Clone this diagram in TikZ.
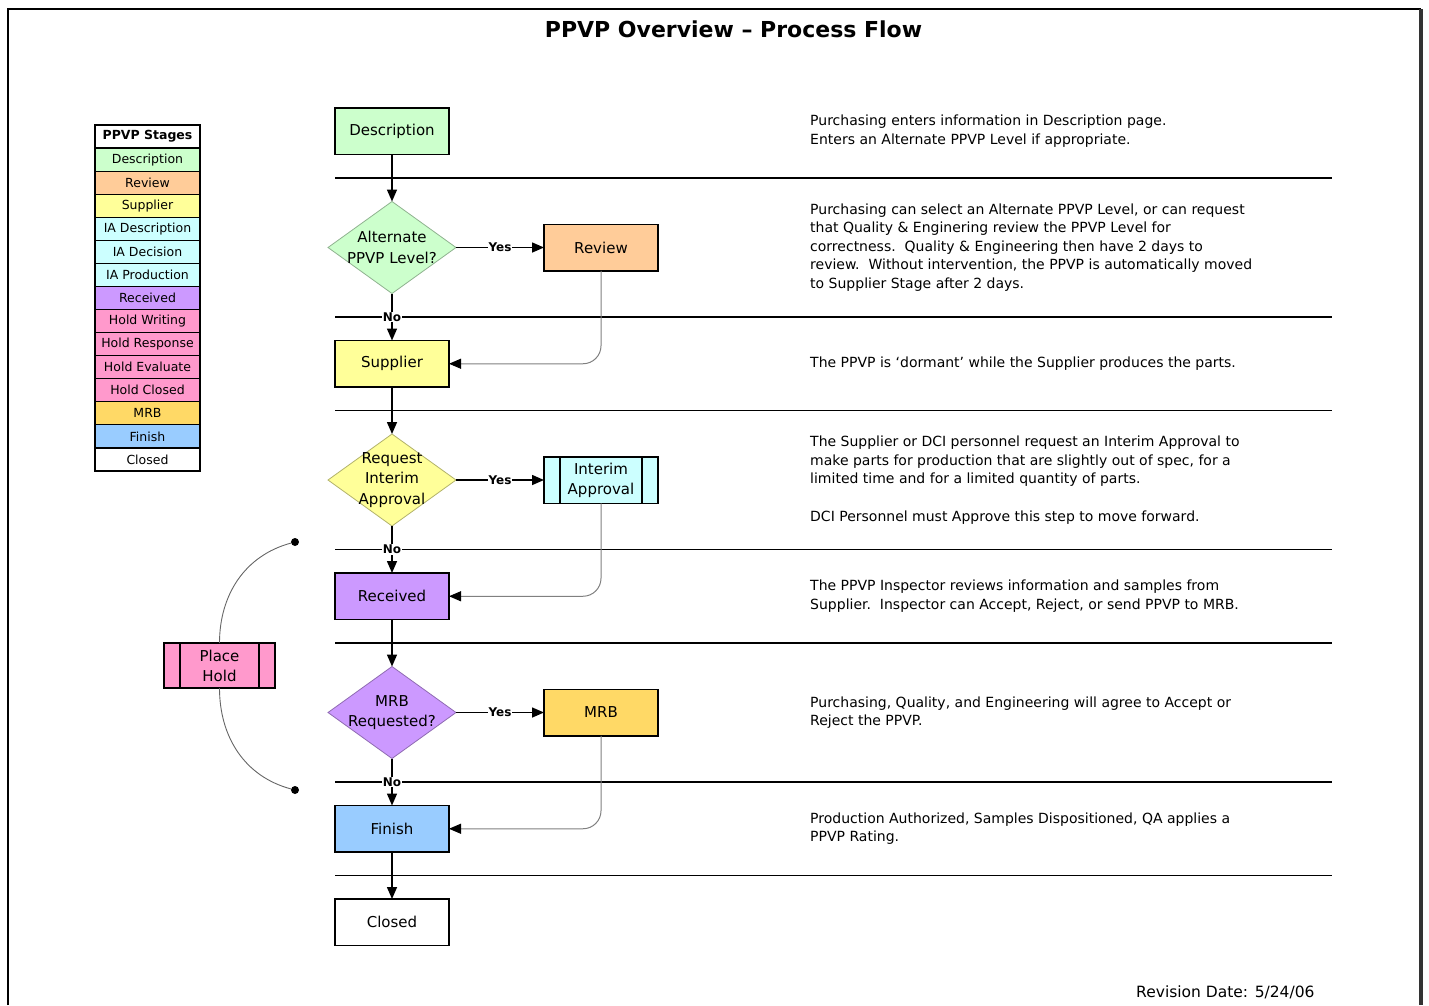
\documentclass[tikz,border=0pt]{standalone}
\usepackage{fontspec}
\setmainfont{DejaVu Sans}
\usepackage{xcolor}
\usetikzlibrary{shapes.geometric,positioning,arrows.meta,calc}
\definecolor{descgreen}{HTML}{CCFFCC}
\definecolor{revorange}{HTML}{FFCC99}
\definecolor{supyellow}{HTML}{FFFF99}
\definecolor{iacyan}{HTML}{CCFFFF}
\definecolor{recpurple}{HTML}{CC99FF}
\definecolor{holdpink}{HTML}{FF99CC}
\definecolor{mrbgold}{HTML}{FFD966}
\definecolor{finblue}{HTML}{99CCFF}

\begin{document}
\begin{tikzpicture}[x=1pt,y=1pt,>={Triangle[length=12pt,width=10pt]},node distance=47pt and 88pt,
	stage/.style={draw,line width=1.5pt,minimum width=114pt,minimum height=46.5pt,inner sep=0pt,outer sep=0pt,align=center,font=\fontsize{15}{20}\selectfont},
	decision/.style={diamond,fill=#1,draw=#1!70!black,line width=0.8pt,minimum width=128pt,minimum height=92pt,inner sep=0pt,outer sep=0pt},
	dtext/.style={align=center,inner sep=0pt,font=\fontsize{15}{20.5}\selectfont},
	predef/.style={path picture={\draw[line width=1.5pt]
		([xshift=16pt]path picture bounding box.north west) -- ([xshift=16pt]path picture bounding box.south west)
		([xshift=-16pt]path picture bounding box.north east) -- ([xshift=-16pt]path picture bounding box.south east);}},
	flow/.style={->,line width=1.5pt},
	back/.style={-{Triangle[length=12pt,width=10pt,color=black]},draw=black!50,line width=1pt,rounded corners=18pt},
	yesno/.style={fill=white,inner sep=1pt,font=\bfseries\fontsize{12}{12}\selectfont},
	sepline/.style={line width=1.5pt},
	note/.style={anchor=west,align=left,inner sep=0pt,font=\fontsize{14}{18.6}\selectfont},
	legend/.style={draw,line width=1.2pt,minimum width=105pt,minimum height=23.07pt,inner sep=0pt,font=\fontsize{12.5}{14}\selectfont},
	holdline/.style={draw=black!60,line width=0.9pt},
	dot/.style={circle,fill=black,inner sep=0pt,minimum size=8pt}]
	\useasboundingbox (0,0) rectangle (1429,-1005);
	\draw[line width=2pt] (8,-1005) -- (8,-9) -- (1421,-9);
	\draw[line width=3.5pt,black!80] (1421,-9) -- (1421,-1005);
	\node[font=\bfseries\fontsize{22}{26}\selectfont] (title) at (733.5,-29) {PPVP Overview -- Process Flow};

	\node[legend,font=\bfseries\fontsize{12.5}{14}\selectfont] (lg0) at (147.5,-136.5) {PPVP Stages};
	\foreach \lab/\col [count=\i] in {Description/descgreen,Review/revorange,Supplier/supyellow,IA Description/iacyan,IA Decision/iacyan,IA Production/iacyan,Received/recpurple,Hold Writing/holdpink,Hold Response/holdpink,Hold Evaluate/holdpink,Hold Closed/holdpink,MRB/mrbgold,Finish/finblue,Closed/white}
		\node[legend,fill=\col] (lg\i) at (147.5,-136.5-23.07*\i) {\lab};

	\node[stage,fill=descgreen] (desc) at (392,-131.25) {Description};
	\node[decision=descgreen,below=of desc,label={[dtext]center:Alternate\\PPVP Level?}] (alt) {};
	\node[stage,fill=revorange,right=of alt] (rev) {Review};
	\node[stage,fill=supyellow,below=of alt] (sup) {Supplier};
	\node[decision=supyellow,below=of sup,label={[dtext]center:Request\\Interim\\Approval}] (ia) {};
	\node[stage,predef,fill=iacyan,right=of ia] (iaok) {Interim\\Approval};
	\node[stage,fill=recpurple,below=of ia] (recv) {Received};
	\node[decision=recpurple,below=of recv,label={[dtext]center:MRB\\Requested?}] (mrbq) {};
	\node[stage,fill=mrbgold,right=of mrbq] (mrb) {MRB};
	\node[stage,fill=finblue,below=of mrbq] (fin) {Finish};
	\node[stage,below=of fin] (clo) {Closed};
	\node[stage,predef,fill=holdpink,minimum width=111pt,minimum height=45pt] (hold) at (219.5,-665.5) {Place\\Hold};
	\node[dot] (h1) at (295,-542) {};
	\node[dot] (h2) at (295,-790) {};

	\coordinate (ex) at (1332,0);
	\foreach \a/\b [count=\k] in {desc/alt,alt/sup,sup/ia,ia/recv,recv/mrbq,mrbq/fin,fin/clo}{
		\coordinate (s\k) at ($(\a.south)!.5!(\b.north)$);
		\draw[sepline] (s\k -| desc.west) -- (s\k -| ex);
	}

	\draw[flow] (desc) -- (alt);
	\draw[flow] (alt) -- node[yesno]{Yes} (rev);
	\draw[flow] (alt) -- node[yesno]{No} (sup);
	\draw[back] (rev) |- (sup);
	\draw[flow] (sup) -- (ia);
	\draw[flow] (ia) -- node[yesno]{Yes} (iaok);
	\draw[flow] (ia) -- node[yesno]{No} (recv);
	\draw[back] (iaok) |- (recv);
	\draw[flow] (recv) -- (mrbq);
	\draw[flow] (mrbq) -- node[yesno]{Yes} (mrb);
	\draw[flow] (mrbq) -- node[yesno]{No} (fin);
	\draw[back] (mrb) |- (fin);
	\draw[flow] (fin) -- (clo);
	\draw[holdline] (hold) to[out=90,in=195] (h1);
	\draw[holdline] (hold) to[out=-90,in=165] (h2);

	\coordinate (nx) at (810,0);
	\node[note] at (nx |- desc) {Purchasing enters information in Description page.\\Enters an Alternate PPVP Level if appropriate.};
	\node[note] at (nx |- alt) {Purchasing can select an Alternate PPVP Level, or can request\\that Quality \& Enginering review the PPVP Level for\\correctness.\ \ Quality \& Engineering then have 2 days to\\review.\ \ Without intervention, the PPVP is automatically moved\\to Supplier Stage after 2 days.};
	\node[note] at (nx |- sup) {The PPVP is `dormant' while the Supplier produces the parts.};
	\node[note] at (nx |- ia) {The Supplier or DCI personnel request an Interim Approval to\\make parts for production that are slightly out of spec, for a\\limited time and for a limited quantity of parts.\\[18.6pt]DCI Personnel must Approve this step to move forward.};
	\node[note] at (nx |- recv) {The PPVP Inspector reviews information and samples from\\Supplier.\ \ Inspector can Accept, Reject, or send PPVP to MRB.};
	\node[note] at (nx |- mrbq) {Purchasing, Quality, and Engineering will agree to Accept or\\Reject the PPVP.};
	\node[note] at (nx |- fin) {Production Authorized, Samples Dispositioned, QA applies a\\PPVP Rating.};
	\node[anchor=base west,inner sep=0pt,font=\fontsize{15.5}{18}\selectfont] (rdate) at (1136,-997) {Revision Date: 5/24/06};
\end{tikzpicture}
\end{document}
